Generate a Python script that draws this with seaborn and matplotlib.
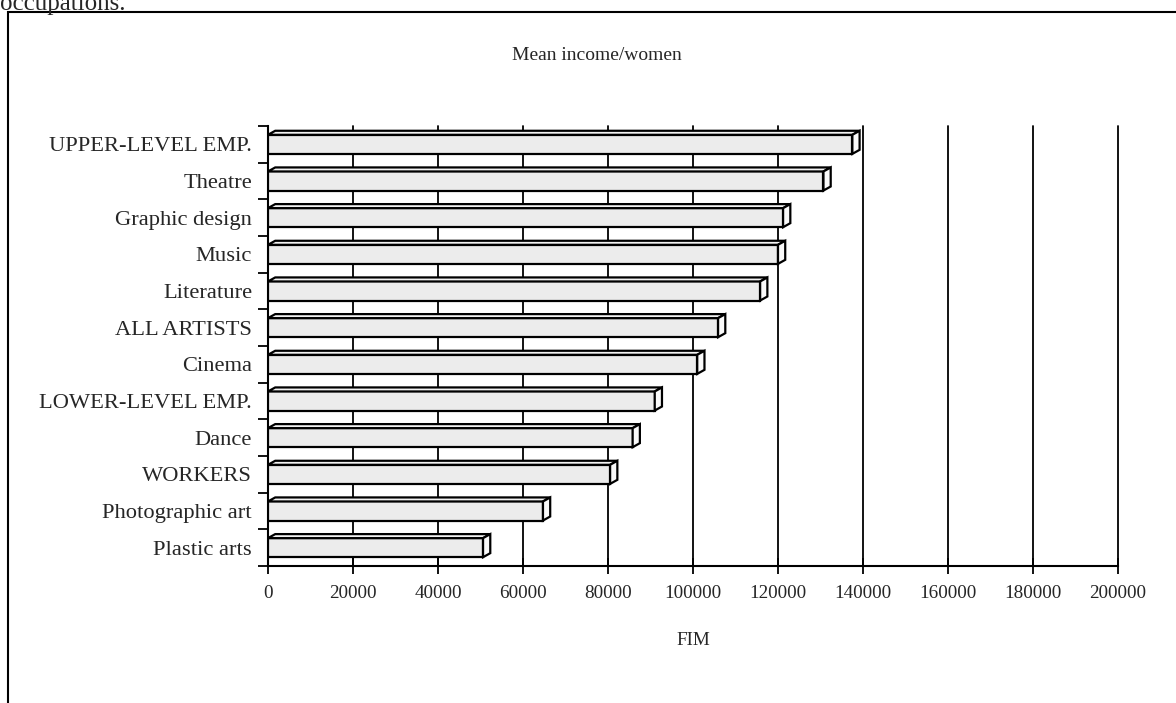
import numpy as np
import pandas as pd
import seaborn as sns
from matplotlib import pyplot as plt
from matplotlib.patches import Polygon, Rectangle

#--- data

categories = ['UPPER-LEVEL EMP.', 'Theatre', 'Graphic design', 'Music',
              'Literature', 'ALL ARTISTS', 'Cinema', 'LOWER-LEVEL EMP.',
              'Dance', 'WORKERS', 'Photographic art', 'Plastic arts']
income = [137500, 130700, 121200, 120000, 115800, 105900,
          101000, 91000, 85800, 80500, 64700, 50600]
x_ticks = [0, 20000, 40000, 60000, 80000, 100000,
           120000, 140000, 160000, 180000, 200000]

df = pd.DataFrame({'occupation': categories, 'income': income})

#--- style

sns.set_style('ticks')
plt.rcParams['font.family'] = ['Liberation Serif', 'DejaVu Serif']

fig = plt.figure(figsize=(11.76, 7.03), dpi=100)
ax = fig.add_axes([268/1176, 1 - 566/703, 850/1176, 440/703])

#--- bars (front faces)

sns.barplot(data=df, x='income', y='occupation', orient='h', color='#ececec',
            saturation=1, edgecolor='black', linewidth=1.6, width=0.52,
            ax=ax, zorder=3)

# fake 3D: top face and right side face for every bar
dx = 1700   # depth in x data units
dy = 0.11   # depth in category units
for p in list(ax.patches):
    x0, y0 = p.get_x(), p.get_y()
    w, h = p.get_width(), p.get_height()
    top = Polygon([(x0, y0), (x0 + dx, y0 - dy), (x0 + w + dx, y0 - dy), (x0 + w, y0)],
                  closed=True, facecolor='#f3f3f3', edgecolor='black', lw=1.6, zorder=3)
    side = Polygon([(x0 + w, y0), (x0 + w + dx, y0 - dy), (x0 + w + dx, y0 + h - dy), (x0 + w, y0 + h)],
                   closed=True, facecolor='#fafafa', edgecolor='black', lw=1.6, zorder=3)
    ax.add_patch(top)
    ax.add_patch(side)

#--- axes

ax.set_xlim(0, 200000)
ax.set_ylim(len(categories) - 0.5, -0.5)
ax.set_xticks(x_ticks)
ax.set_xticklabels([str(t) for t in x_ticks])
ax.grid(axis='x', color='black', lw=1.3)
ax.set_axisbelow(True)
for gl in ax.get_xgridlines():
    gl.set_clip_on(False)

ax.set_yticks(np.arange(len(categories)))
ax.set_yticks(np.arange(len(categories) + 1) - 0.5, minor=True)
ax.tick_params(axis='y', which='major', length=0, pad=11.5, labelsize=16.2)
ax.tick_params(axis='y', which='minor', length=7, width=1.3, direction='out', color='black')
ax.tick_params(axis='x', which='major', direction='inout', length=12, width=1.3,
               pad=7.5, labelsize=13.8, color='black')

for s in ['top', 'right']:
    ax.spines[s].set_visible(False)
for s in ['left', 'bottom']:
    ax.spines[s].set_color('black')
    ax.spines[s].set_linewidth(1.5)

ax.set_ylabel('')
ax.set_xlabel('FIM', fontsize=13.8, labelpad=22)

#--- page bits

fig.text(597/1176, 1 - 56/703, 'Mean income/women', ha='center', va='center', fontsize=14)
fig.text(0, 1 - 10/703, 'occupations.', ha='left', va='baseline', fontsize=18)
fig.patches.append(Rectangle((8/1176, -0.05), 1.2, (703 - 12)/703 + 0.05,
                             transform=fig.transFigure, fill=False,
                             edgecolor='black', lw=1.5))

plt.savefig('out.png', dpi=100)
plt.close()
